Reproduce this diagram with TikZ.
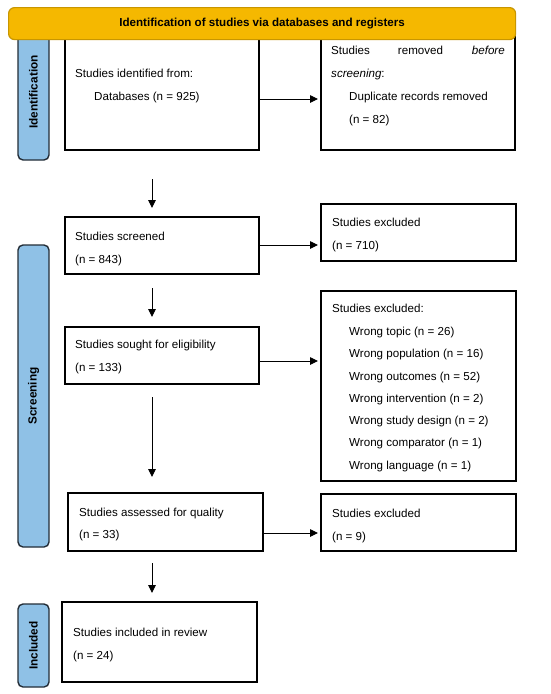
\documentclass[tikz,border=0pt]{standalone}
\usepackage{fontspec}
\setmainfont{Liberation Sans}
\usetikzlibrary{arrows.meta}
\definecolor{hdrfill}{RGB}{245,184,0}
\definecolor{hdrdraw}{RGB}{200,150,0}
\definecolor{sidefill}{RGB}{143,193,230}
\definecolor{sidedraw}{RGB}{35,45,55}
\begin{document}
\begin{tikzpicture}[x=1pt,y=-1pt,
  box/.style={draw=black,line width=1.4pt,fill=white,anchor=north west,inner sep=0pt,outer sep=0pt},
  txt/.style={anchor=base west,inner sep=0pt,font=\fontsize{11.6}{13}\selectfont},
  side/.style={draw=sidedraw,line width=1.4pt,fill=sidefill,rounded corners=5pt,anchor=north west,inner sep=0pt,outer sep=0pt},
  sidetxt/.style={rotate=90,inner sep=0pt,font=\bfseries\fontsize{11.8}{13}\selectfont},
  arr/.style={line width=0.9pt,-{Triangle[length=8pt,width=7.5pt]}}]
\useasboundingbox (0,0) rectangle (550,694);
\fill[white] (0,0) rectangle (550,694);
% side labels
\node[side,minimum width=31pt,minimum height=135pt] (sid) at (18,25) {};
\node[sidetxt] (sidt) at (sid.center |- 0,92) {Identification};
\node[side,minimum width=31pt,minimum height=302pt] (sscr) at (18,245) {};
\node[sidetxt] (sscrt) at (sscr.center) {Screening};
\node[side,minimum width=31pt,minimum height=83pt] (sinc) at (18,604) {};
\node[sidetxt] (sinct) at (sinc.center) {Included};
% boxes
\node[box,minimum width=194pt,minimum height=121pt] (b1) at (65,29) {};
\node[box,minimum width=194pt,minimum height=121pt] (b2) at (321,29) {};
\node[box,minimum width=194pt,minimum height=57pt] (b3) at (65,217) {};
\node[box,minimum width=195pt,minimum height=57pt] (b4) at (321,204) {};
\node[box,minimum width=194pt,minimum height=57pt] (b5) at (65,327) {};
\node[box,minimum width=195pt,minimum height=190pt] (b6) at (321,291) {};
\node[box,minimum width=195pt,minimum height=58pt] (b7) at (68,493) {};
\node[box,minimum width=195pt,minimum height=57pt] (b8) at (321,494) {};
\node[box,minimum width=195pt,minimum height=80pt] (b9) at (62,602) {};
% header
\node[draw=hdrdraw,line width=1.2pt,fill=hdrfill,rounded corners=6pt,anchor=north west,inner sep=0pt,minimum width=507pt,minimum height=32pt] (hdr) at (8,7) {};
\node[inner sep=0pt,font=\bfseries\fontsize{11.6}{13}\selectfont] (hdrt) at (hdr.center) {Identification of studies via databases and registers};
% texts
\node[txt] (t1a) at (75,77) {Studies identified from:};
\node[txt] (t1b) at (94,100) {Databases (n = 925)};
\node[txt] (t2a) at (331,54) {Studies};
\node[txt,anchor=base] (t2b) at (420.5,54) {removed};
\node[txt,anchor=base east] (t2c) at (505,54) {\itshape before};
\node[txt] (t2d) at (331,77) {\itshape screening\upshape:};
\node[txt] (t2e) at (349,100) {Duplicate records removed};
\node[txt] (t2f) at (349,123) {(n = 82)};
\node[txt] (t3a) at (75,240) {Studies screened};
\node[txt] (t3b) at (75,263) {(n = 843)};
\node[txt] (t4a) at (332,226) {Studies excluded};
\node[txt] (t4b) at (332,249) {(n = 710)};
\node[txt] (t5a) at (75,348) {Studies sought for eligibility};
\node[txt] (t5b) at (75,371) {(n = 133)};
\node[txt] (t6a) at (332,312) {Studies excluded:};
\node[txt] (t6b) at (349,335) {Wrong topic (n = 26)};
\node[txt] (t6c) at (349,357) {Wrong population (n = 16)};
\node[txt] (t6d) at (349,380) {Wrong outcomes (n = 52)};
\node[txt] (t6e) at (349,402) {Wrong intervention (n = 2)};
\node[txt] (t6f) at (349,424) {Wrong study design (n = 2)};
\node[txt] (t6g) at (349,446) {Wrong comparator (n = 1)};
\node[txt] (t6h) at (349,469) {Wrong language (n = 1)};
\node[txt] (t7a) at (79,516) {Studies assessed for quality};
\node[txt] (t7b) at (79,538) {(n = 33)};
\node[txt] (t8a) at (332,517) {Studies excluded};
\node[txt] (t8b) at (332,540) {(n = 9)};
\node[txt] (t9a) at (73,636) {Studies included in review};
\node[txt] (t9b) at (73,659) {(n = 24)};
% connectors
\coordinate (ax) at (152,0);
\draw[arr,shorten >=3pt] (b1.east |- 0,99) -- (b2.west |- 0,99);
\draw[arr,shorten >=3pt] (b3.east |- 0,245) -- (b4.west |- 0,245);
\draw[arr,shorten >=3pt] (b5.east |- 0,361) -- (b6.west |- 0,361);
\draw[arr,shorten >=3pt] (b7.east |- 0,533) -- (b8.west |- 0,533);
\draw[arr,shorten <=29pt,shorten >=9pt] (b1.south -| ax) -- (b3.north -| ax);
\draw[arr,shorten <=14pt,shorten >=10pt] (b3.south -| ax) -- (b5.north -| ax);
\draw[arr,shorten <=13pt,shorten >=16pt] (b5.south -| ax) -- (b7.north -| ax);
\draw[arr,shorten <=12pt,shorten >=9pt] (b7.south -| ax) -- (b9.north -| ax);
\end{tikzpicture}
\end{document}
